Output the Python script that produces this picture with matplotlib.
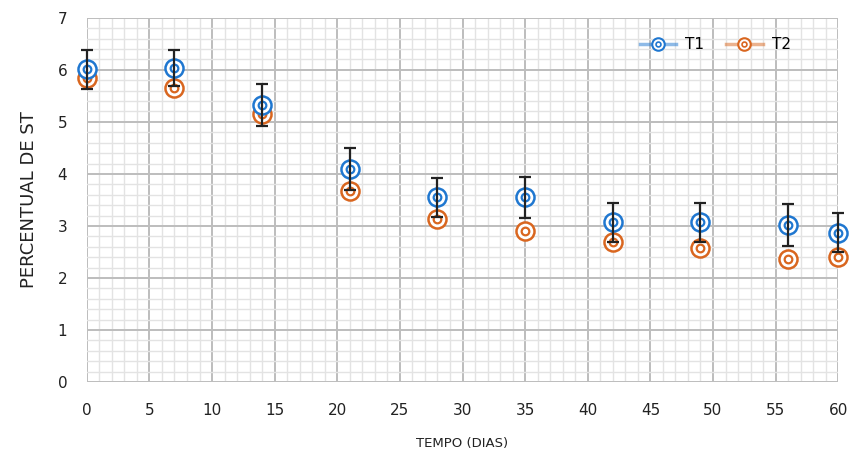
import numpy as np
import matplotlib.pyplot as plt
from matplotlib.lines import Line2D
from matplotlib.legend_handler import HandlerTuple
from matplotlib.ticker import MultipleLocator

# ---------- dados ----------
dias = [0, 7, 14, 21, 28, 35, 42, 49, 56, 60]
t1 = [6.01, 6.04, 5.33, 4.10, 3.55, 3.55, 3.07, 3.07, 3.02, 2.87]
t2 = [5.84, 5.65, 5.15, 3.67, 3.14, 2.90, 2.70, 2.58, 2.37, 2.41]
erro_t1 = [0.38, 0.35, 0.40, 0.40, 0.38, 0.40, 0.38, 0.38, 0.40, 0.37]

azul = "#1f77d0"
laranja = "#d9661f"

plt.rcParams["font.family"] = ["DejaVu Sans"]

fig = plt.figure(figsize=(8.51, 4.57), dpi=100)
ax = fig.add_axes([0.102, 0.164, 0.883, 0.797])

ax.set_xlim(0, 60)
ax.set_ylim(0, 7)
ax.xaxis.set_major_locator(MultipleLocator(5))
ax.xaxis.set_minor_locator(MultipleLocator(1))
ax.yaxis.set_major_locator(MultipleLocator(1))
ax.yaxis.set_minor_locator(MultipleLocator(0.2))
ax.grid(which="minor", color="#e3e3e3", lw=1.0)
ax.grid(which="major", color="#bdbdbd", lw=1.4)
ax.set_axisbelow(True)
for s in ax.spines.values():
    s.set_visible(False)
ax.tick_params(which="both", length=0)
ax.tick_params(axis="x", pad=15, labelsize=11, labelcolor="#222222")
ax.tick_params(axis="y", pad=14, labelsize=11, labelcolor="#222222")

# marcadores tipo "alvo" (círculo duplo)
for ys, cor, z in [(t2, laranja, 3), (t1, azul, 4)]:
    ax.plot(dias, ys, ls="none", marker="o", ms=13, mfc="white", mec=cor, mew=1.8, zorder=z, clip_on=False)
    ax.plot(dias, ys, ls="none", marker="o", ms=5.5, mfc="none", mec=cor, mew=1.6, zorder=z, clip_on=False)

ax.errorbar(dias, t1, yerr=erro_t1, fmt="none", ecolor="#222222", elinewidth=1.6,
            capsize=4.5, capthick=1.6, zorder=5, clip_on=False)

ax.set_xlabel("TEMPO (DIAS)", fontsize=9.5, labelpad=14, color="#222222")
ax.set_ylabel("PERCENTUAL DE ST", fontsize=13, labelpad=14, color="#222222")

# legenda
handles = []
for cor in [azul, laranja]:
    linha = Line2D([], [], color=cor, lw=2.5, alpha=0.5)
    externo = Line2D([], [], ls="none", marker="o", ms=9, mfc="white", mec=cor, mew=1.5)
    interno = Line2D([], [], ls="none", marker="o", ms=3.5, mfc="none", mec=cor, mew=1.2)
    handles.append((linha, externo, interno))
ax.legend(handles, ["T1", "T2"], handler_map={tuple: HandlerTuple(ndivide=1, pad=0)},
          loc="upper right", bbox_to_anchor=(0.955, 0.985), ncol=2, frameon=False,
          fontsize=11, handlelength=2.4, columnspacing=1.4, handletextpad=0.6)

fig.savefig("out.png", dpi=100)
